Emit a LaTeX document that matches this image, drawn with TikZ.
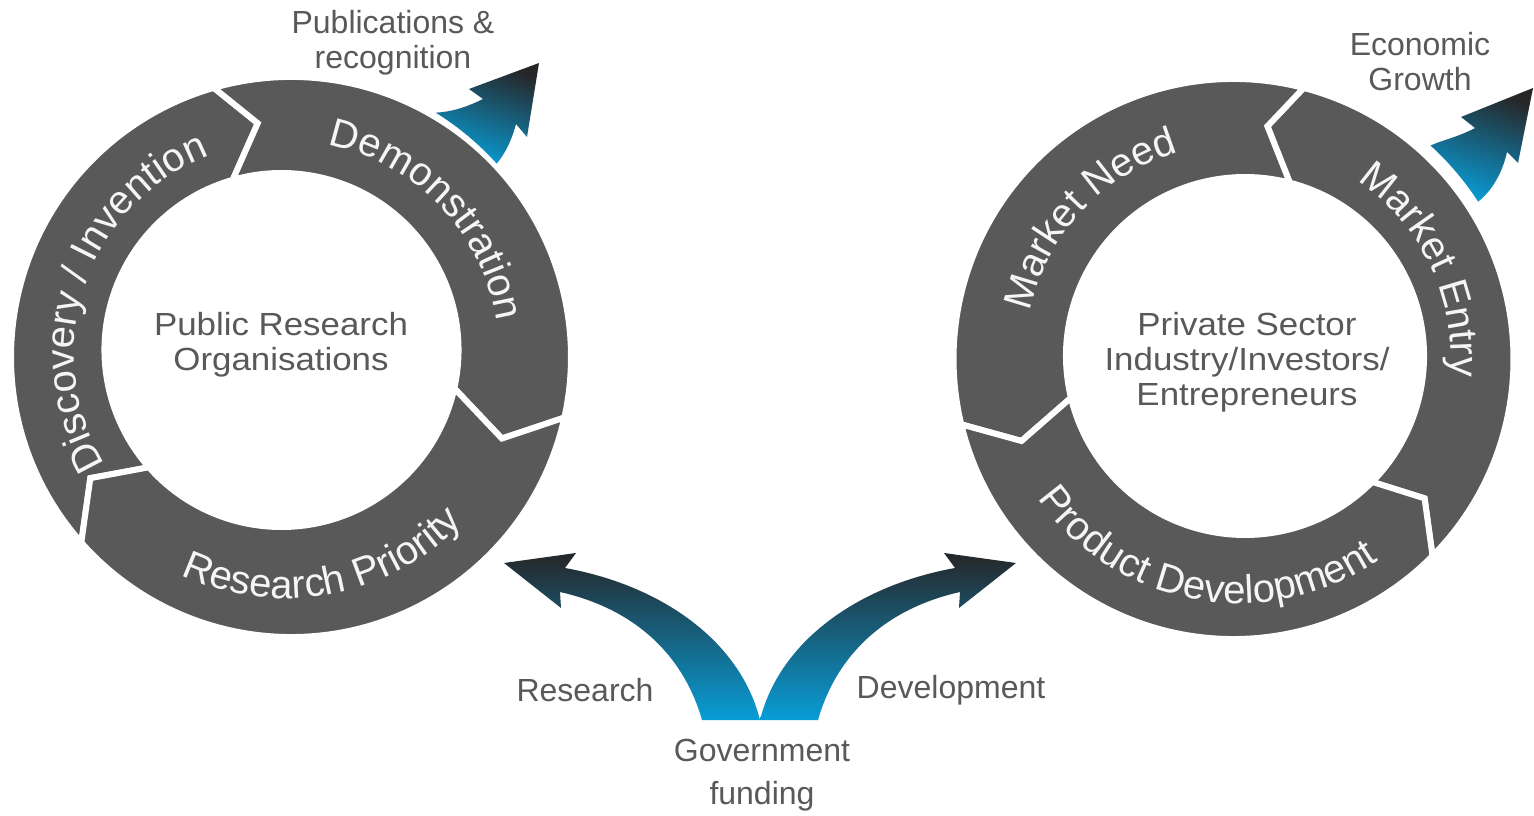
\documentclass[tikz,border=0pt]{standalone}
\usepackage{fontspec}
\setmainfont{Liberation Sans}
\newfontfamily\widefont{Liberation Sans}[FakeStretch=1.09]
\usetikzlibrary{decorations.text}
\definecolor{seggray}{RGB}{89,89,89}
\definecolor{labgray}{RGB}{89,89,89}
\definecolor{arcwhite}{RGB}{245,245,245}
\definecolor{blueL}{RGB}{8,157,214}
\definecolor{blueD}{RGB}{38,38,40}
\newcommand\arcfont{\fontsize{40}{42}\selectfont}
% ring segment: start angle, end angle, tip offset (uses coordinates co, ci, cm and \Ro \Ri \Rm)
\newcommand\ringseg[3]{%
  \pgfmathsetmacro\tipA{#2+(#3)}%
  \pgfmathsetmacro\tipB{#1+(#3)}%
  \filldraw[seg] ([shift={(co)}]#1:\Ro) arc[start angle=#1, end angle=#2, radius=\Ro]
    -- ([shift={(cm)}]\tipA:\Rm) -- ([shift={(ci)}]#2:\Ri) arc[start angle=#2, end angle=#1, radius=\Ri]
    -- ([shift={(cm)}]\tipB:\Rm) -- cycle;}
% text along arc: start angle, end angle, radius, text
\newcommand\arctext[4]{%
  \path[decorate, decoration={text along path, text align=center,
    text={|\arcfont\color{arcwhite}|#4}}]
    ([shift={(cm)}]#1:#3) arc[start angle=#1, end angle=#2, radius=#3];}
\tikzset{
  seg/.style={fill=seggray, draw=white, line width=6, line join=miter},
  centertext/.style={text=labgray, align=center, font=\widefont\fontsize{32}{35}\selectfont},
  lab/.style={text=labgray, align=center, font=\fontsize{32}{35}\selectfont},
  bluearrow/.style={top color=blueD, bottom color=blueL, draw=none},
}
\begin{document}
\begin{tikzpicture}[x=1pt,y=1pt]
\useasboundingbox (0,0) rectangle (1534,815);
\fill[white] (0,0) rectangle (1534,815);

% left ring
\begin{scope}
  \coordinate (co) at (291,458);
  \coordinate (ci) at (281.5,465);
  \coordinate (cm) at (286,461.5);
  \def\Ro{280}\def\Ri{177}\def\Rm{232}
  \ringseg{221.5}{106}{-9}
  \ringseg{106}{-12.5}{-9}
  \ringseg{-12.5}{-138.5}{-9}
  \arctext{231.3}{91.3}{212}{Discovery / Invention}
  \arctext{103.7}{-16.3}{213}{Demonstration}
  \arctext{210.4}{350.4}{245}{Research Priority}
\end{scope}

% right ring
\begin{scope}
  \coordinate (co) at (1233.5,456);
  \coordinate (ci) at (1245,459);
  \coordinate (cm) at (1239,457.5);
  \def\Ro{280}\def\Ri{179}\def\Rm{233}
  \ringseg{-44.7}{75.5}{7.5}
  \ringseg{75.5}{193.5}{7.5}
  \ringseg{193.5}{315.3}{7.5}
  \arctext{207}{67}{214}{Market Need}
  \arctext{95.6}{-44.4}{212}{Market Entry}
  \arctext{189.8}{329.8}{246}{Product Development}
\end{scope}

% centre texts
\node[centertext] (pro) at (281,470) {Public Research\\Organisations};
\node[centertext] (priv) at (1247,453) {Private Sector\\Industry/Investors/\\Entrepreneurs};

% outer labels
\node[lab] (pub) at (393,772) {Publications \&\\recognition};
\node[lab] (eco) at (1420,753) {Economic\\Growth};
\node[lab] (res) at (585,125) {Research};
\node[lab] (dev) at (951,125) {Development};
\node[lab, font=\fontsize{32}{43}\selectfont] (gov) at (762,40) {Government\\funding};

% publications arrow
\shade[bluearrow, shading angle=-20] (539,752) -- (469,726) -- (483,716)
  .. controls (465,707) and (450,703) .. ([shift={(286,461)}]58.2:284)
  arc[start angle=58.2, end angle=42.1, radius=284]
  .. controls (508,665) and (513,680) .. (516,691) -- (527,678) -- cycle;

% economic growth arrow
\shade[bluearrow, shading angle=-20] (1533,727) -- (1461,698) -- (1475,687)
  .. controls (1458,678) and (1446,676) .. ([shift={(1238,458)}]47.7:286)
  arc[start angle=47.7, end angle=32.9, radius=286]
  .. controls (1494,626) and (1503,645) .. (1507,663) -- (1518,652) -- cycle;

% government funding arrows
\shade[bluearrow] (504,252) -- (576,262) -- (565,247)
  .. controls (660,230) and (740,175) .. (760,95) -- (702,95)
  .. controls (685,155) and (640,205) .. (560,223) -- (561,207) -- cycle;
\shade[bluearrow] (1016,252) -- (944,262) -- (955,247)
  .. controls (860,230) and (780,175) .. (760,95) -- (818,95)
  .. controls (835,155) and (880,205) .. (960,223) -- (959,207) -- cycle;
\end{tikzpicture}
\end{document}
